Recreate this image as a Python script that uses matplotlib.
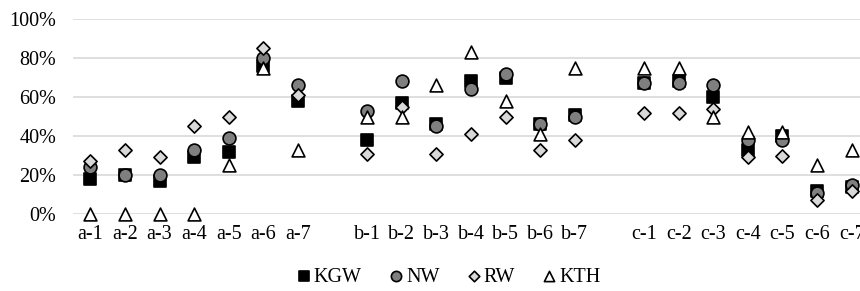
import numpy as np
import matplotlib
matplotlib.use("Agg")
import matplotlib.pyplot as plt
from matplotlib.ticker import PercentFormatter

plt.rcParams['font.family'] = ['Liberation Serif', 'DejaVu Serif']

categories = ['a-1', 'a-2', 'a-3', 'a-4', 'a-5', 'a-6', 'a-7', '',
              'b-1', 'b-2', 'b-3', 'b-4', 'b-5', 'b-6', 'b-7', '',
              'c-1', 'c-2', 'c-3', 'c-4', 'c-5', 'c-6', 'c-7']
nan = np.nan
KGW = [18, 20, 17, 29, 32, 76, 58, nan,
       38, 57, 46, 68, 70, 46, 51, nan,
       67, 68, 60, 33, 40, 12, 14]
NW = [24, 20, 20, 33, 39, 80, 66, nan,
      53, 68, 45, 64, 72, 46, 50, nan,
      67, 67, 66, 38, 38, 11, 15]
RW = [27, 33, 29, 45, 50, 85, 61, nan,
      31, 55, 31, 41, 50, 33, 38, nan,
      52, 52, 54, 29, 30, 7, 12]
KTH = [0, 0, 0, 0, 25, 75, 33, nan,
       50, 50, 66, 83, 58, 41, 75, nan,
       75, 75, 50, 42, 42, 25, 33]
yticks = [0, 20, 40, 60, 80, 100]

series = [
    ('KGW', KGW, dict(marker='s', facecolor='black', edgecolor='black', s=75)),
    ('NW', NW, dict(marker='o', facecolor='#7f7f7f', edgecolor='black', s=85)),
    ('RW', RW, dict(marker='D', facecolor='#d9d9d9', edgecolor='black', s=45)),
    ('KTH', KTH, dict(marker='^', facecolor='white', edgecolor='black', s=85)),
]

fig = plt.figure(figsize=(8.6, 2.91), dpi=100)
ax = fig.add_axes([73/860, 1-214/291, 796/860, 195/291])
x = np.arange(len(categories))
for name, vals, st in series:
    ax.scatter(x, vals, label=name, linewidths=1.2, clip_on=False, zorder=3, **st)

ax.set_xlim(-0.5, len(categories) - 0.5)
ax.set_ylim(0, 100)
ax.set_yticks(yticks)
ax.yaxis.set_major_formatter(PercentFormatter(decimals=0))
ax.set_xticks(x)
ax.set_xticklabels(categories)
ax.grid(axis='y', color='#d9d9d9', linewidth=1.2, zorder=0)
ax.set_axisbelow(True)
for sp in ax.spines.values():
    sp.set_visible(False)
ax.tick_params(axis='both', length=0, labelsize=14.5, colors='black')
ax.tick_params(axis='y', pad=12)
ax.tick_params(axis='x', pad=8)

leg = fig.legend(loc='center', bbox_to_anchor=(0.52, 1-277/291), ncol=4, frameon=False,
                 fontsize=14.5, handletextpad=0.0, columnspacing=1.2, handlelength=1.0,
                 markerscale=0.8, borderaxespad=0)
fig.savefig('out.png', dpi=100)
